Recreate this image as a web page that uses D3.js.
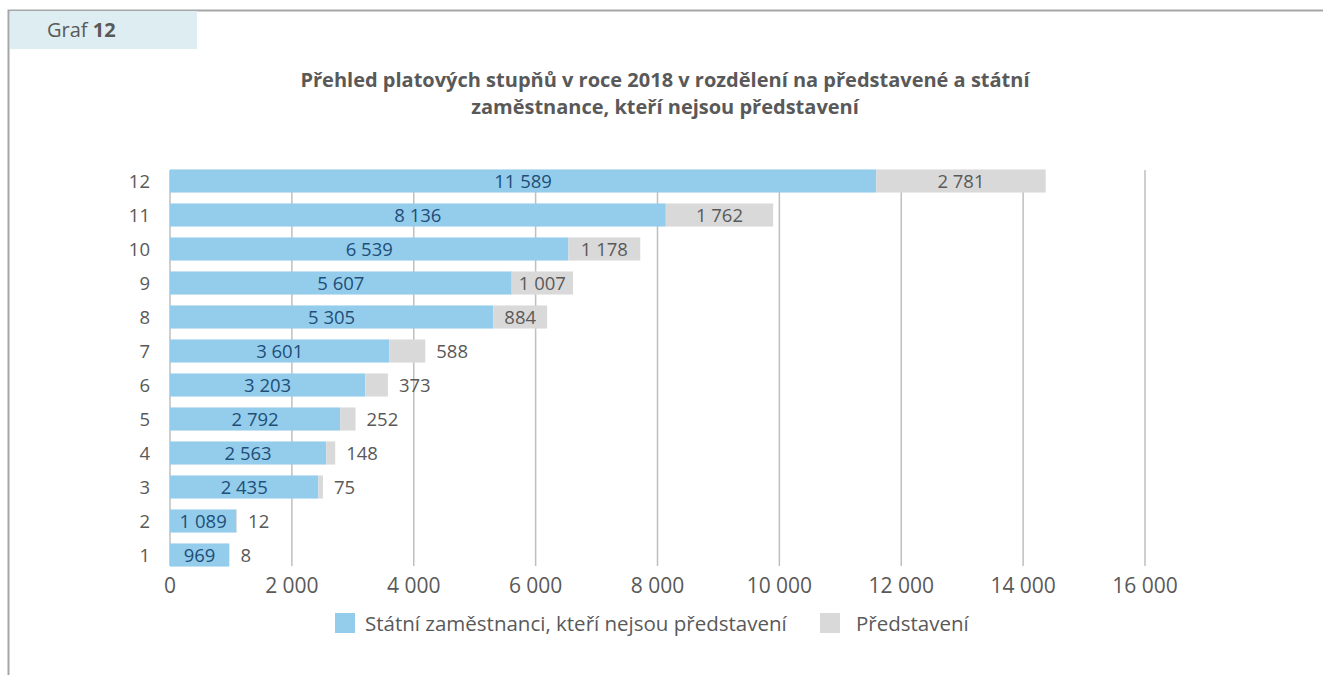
<!DOCTYPE html>
<html>
<head>
<meta charset="utf-8">
<script src="https://cdn.jsdelivr.net/npm/d3@7"></script>
<style>
  body { margin: 0; background: #fff; }
  text { font-family: "Open Sans", sans-serif; }
</style>
</head>
<body>
<div id="container"></div>
<script>
// data
const grades = ['1', '2', '3', '4', '5', '6', '7', '8', '9', '10', '11', '12'];
const employees = [969, 1089, 2435, 2563, 2792, 3203, 3601, 5305, 5607, 6539, 8136, 11589];
const managers = [8, 12, 75, 148, 252, 373, 588, 884, 1007, 1178, 1762, 2781];
const xTicks = [0, 2000, 4000, 6000, 8000, 10000, 12000, 14000, 16000];
const seriesNames = ['Státní zaměstnanci, kteří nejsou představení', 'Představení'];
const titleLines = ['Přehled platových stupňů v roce 2018 v rozdělení na představené a státní',
                    'zaměstnance, kteří nejsou představení'];

const blue = '#94cdeb';
const grey = '#d9d9d9';
const textGrey = '#595959';
const fmt = v => d3.format(',')(v).replace(/,/g, ' ');

const svg = d3.select('#container').append('svg')
    .attr('width', 1323)
    .attr('height', 675);

// frame
svg.append('path')
    .attr('d', 'M8.5,675 V10.5 H1323')
    .attr('fill', 'none')
    .attr('stroke', '#a6a6a6')
    .attr('stroke-width', 2);

svg.append('rect')
    .attr('x', 10).attr('y', 11)
    .attr('width', 187).attr('height', 38)
    .attr('fill', '#deedf2');

svg.append('text')
    .attr('x', 47).attr('y', 37)
    .attr('font-size', 20)
    .attr('fill', textGrey)
    .html('Graf <tspan font-weight="bold">12</tspan>');

svg.selectAll('.title').data(titleLines).join('text')
    .attr('class', 'title')
    .attr('x', 665)
    .attr('y', (d, i) => 87 + i * 27)
    .attr('text-anchor', 'middle')
    .attr('font-size', 20)
    .attr('font-weight', 'bold')
    .attr('fill', textGrey)
    .text(d => d);

const x = d3.scaleLinear().domain([0, 16000]).range([170, 1145]);
const y = d3.scaleBand().domain(grades.slice().reverse()).range([164, 572]).paddingInner(0.32).paddingOuter(0.16);

// grid
svg.append('g')
    .selectAll('line').data(xTicks).join('line')
    .attr('x1', d => x(d)).attr('x2', d => x(d))
    .attr('y1', 170).attr('y2', 566)
    .attr('stroke', '#bfbfbf')
    .attr('stroke-width', 1.5);

const rows = grades.map((g, i) => ({ g, a: employees[i], b: managers[i] }));

const bar = svg.append('g').selectAll('g').data(rows).join('g');

bar.append('rect')
    .attr('x', x(0))
    .attr('y', d => y(d.g))
    .attr('width', d => x(d.a) - x(0))
    .attr('height', y.bandwidth())
    .attr('fill', blue);

bar.append('rect')
    .attr('x', d => x(d.a))
    .attr('y', d => y(d.g))
    .attr('width', d => x(d.a + d.b) - x(d.a))
    .attr('height', y.bandwidth())
    .attr('fill', grey);

bar.append('text')
    .attr('x', d => (x(0) + x(d.a)) / 2)
    .attr('y', d => y(d.g) + y.bandwidth() / 2)
    .attr('dy', '0.36em')
    .attr('text-anchor', 'middle')
    .attr('font-size', 18.5)
    .attr('fill', '#1f4e79')
    .text(d => fmt(d.a));

const inside = d => x(d.a + d.b) - x(d.a) > 45;

bar.append('text')
    .attr('x', d => (inside(d) ? (x(d.a) + x(d.a + d.b)) / 2 : x(d.a + d.b) + 11))
    .attr('y', d => y(d.g) + y.bandwidth() / 2)
    .attr('dy', '0.36em')
    .attr('text-anchor', d => (inside(d) ? 'middle' : 'start'))
    .attr('font-size', 18.5)
    .attr('fill', textGrey)
    .text(d => fmt(d.b));

// y axis labels
svg.append('g')
    .selectAll('text').data(grades).join('text')
    .attr('x', 150)
    .attr('y', d => y(d) + y.bandwidth() / 2)
    .attr('dy', '0.36em')
    .attr('text-anchor', 'end')
    .attr('font-size', 18.5)
    .attr('fill', textGrey)
    .text(d => d);

// x axis labels
svg.append('g')
    .selectAll('text').data(xTicks).join('text')
    .attr('x', d => x(d))
    .attr('y', 585)
    .attr('dy', '0.36em')
    .attr('text-anchor', 'middle')
    .attr('font-size', 21)
    .attr('fill', textGrey)
    .text(d => fmt(d));

// legend
const legend = svg.append('g');
const legX = [335, 820];
legend.selectAll('rect').data(seriesNames).join('rect')
    .attr('x', (d, i) => legX[i])
    .attr('y', 613)
    .attr('width', 20).attr('height', 20)
    .attr('fill', (d, i) => (i === 0 ? blue : grey));
legend.selectAll('text').data(seriesNames).join('text')
    .attr('x', (d, i) => legX[i] + (i === 0 ? 30 : 36))
    .attr('y', 624)
    .attr('dy', '0.36em')
    .attr('font-size', 20.5)
    .attr('fill', textGrey)
    .text(d => d);
</script>
</body>
</html>
